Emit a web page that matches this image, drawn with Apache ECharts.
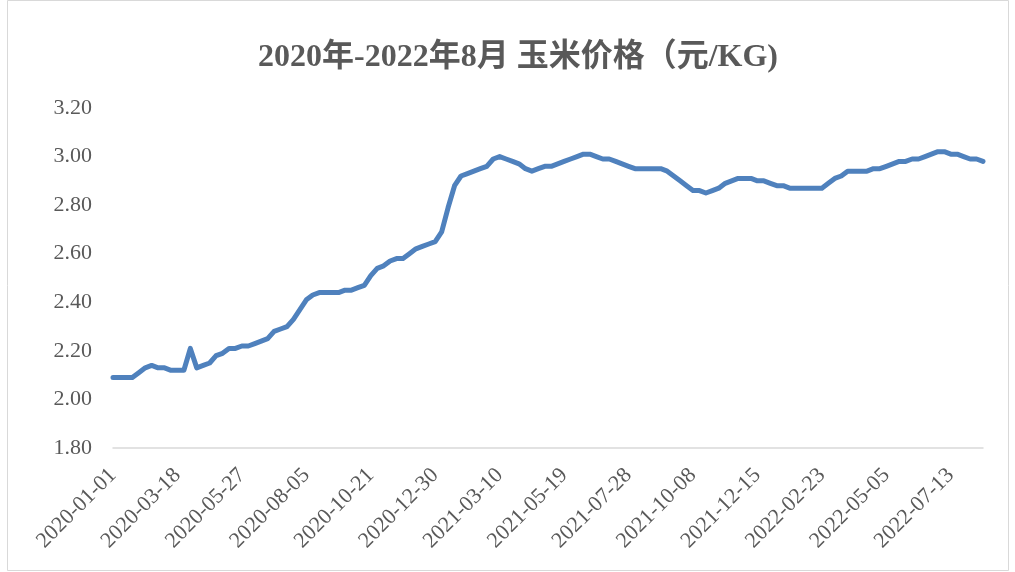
<!DOCTYPE html>
<html>
<head>
<meta charset="utf-8">
<script src="https://cdn.jsdelivr.net/npm/echarts@6/dist/echarts.min.js"></script>
<style>
html,body{margin:0;padding:0;background:#fff;}
#chart{width:1015px;height:572px;}
</style>
</head>
<body>
<div id="chart"></div>
<script>
const titleText = '2020年-2022年8月 玉米价格（元/KG)';

const dates = [
'2020-01-01','2020-01-08','2020-01-15','2020-01-22','2020-02-05','2020-02-12','2020-02-19','2020-02-26','2020-03-04','2020-03-11',
'2020-03-18','2020-03-25','2020-04-01','2020-04-08','2020-04-15','2020-04-22','2020-04-29','2020-05-06','2020-05-13','2020-05-20',
'2020-05-27','2020-06-03','2020-06-10','2020-06-17','2020-06-24','2020-07-01','2020-07-08','2020-07-15','2020-07-22','2020-07-29',
'2020-08-05','2020-08-12','2020-08-19','2020-08-26','2020-09-02','2020-09-09','2020-09-16','2020-09-23','2020-09-30','2020-10-14',
'2020-10-21','2020-10-28','2020-11-04','2020-11-11','2020-11-18','2020-11-25','2020-12-02','2020-12-09','2020-12-16','2020-12-23',
'2020-12-30','2021-01-06','2021-01-13','2021-01-20','2021-01-27','2021-02-03','2021-02-10','2021-02-17','2021-02-24','2021-03-03',
'2021-03-10','2021-03-17','2021-03-24','2021-03-31','2021-04-07','2021-04-14','2021-04-21','2021-04-28','2021-05-05','2021-05-12',
'2021-05-19','2021-05-26','2021-06-02','2021-06-09','2021-06-16','2021-06-23','2021-06-30','2021-07-07','2021-07-14','2021-07-21',
'2021-07-28','2021-08-04','2021-08-11','2021-08-18','2021-08-25','2021-09-01','2021-09-08','2021-09-15','2021-09-22','2021-09-29',
'2021-10-08','2021-10-13','2021-10-20','2021-10-27','2021-11-03','2021-11-10','2021-11-17','2021-11-24','2021-12-01','2021-12-08',
'2021-12-15','2021-12-22','2021-12-29','2022-01-05','2022-01-12','2022-01-19','2022-01-26','2022-02-02','2022-02-09','2022-02-16',
'2022-02-23','2022-03-02','2022-03-09','2022-03-16','2022-03-23','2022-03-30','2022-04-06','2022-04-13','2022-04-20','2022-04-27',
'2022-05-05','2022-05-11','2022-05-18','2022-05-25','2022-06-01','2022-06-08','2022-06-15','2022-06-22','2022-06-29','2022-07-06',
'2022-07-13','2022-07-20','2022-07-27','2022-08-03','2022-08-10','2022-08-17'
];

const prices = [
2.09,2.09,2.09,2.09,2.11,2.13,2.14,2.13,2.13,2.12,
2.12,2.12,2.21,2.13,2.14,2.15,2.18,2.19,2.21,2.21,
2.22,2.22,2.23,2.24,2.25,2.28,2.29,2.30,2.33,2.37,
2.41,2.43,2.44,2.44,2.44,2.44,2.45,2.45,2.46,2.47,
2.51,2.54,2.55,2.57,2.58,2.58,2.60,2.62,2.63,2.64,
2.65,2.69,2.79,2.88,2.92,2.93,2.94,2.95,2.96,2.99,
3.00,2.99,2.98,2.97,2.95,2.94,2.95,2.96,2.96,2.97,
2.98,2.99,3.00,3.01,3.01,3.00,2.99,2.99,2.98,2.97,
2.96,2.95,2.95,2.95,2.95,2.95,2.94,2.92,2.90,2.88,
2.86,2.86,2.85,2.86,2.87,2.89,2.90,2.91,2.91,2.91,
2.90,2.90,2.89,2.88,2.88,2.87,2.87,2.87,2.87,2.87,
2.87,2.89,2.91,2.92,2.94,2.94,2.94,2.94,2.95,2.95,
2.96,2.97,2.98,2.98,2.99,2.99,3.00,3.01,3.02,3.02,
3.01,3.01,3.00,2.99,2.99,2.98
];

const yMin = 1.8, yMax = 3.2, yStep = 0.2;
const labelEvery = 10;

const chart = echarts.init(document.getElementById('chart'), null, {renderer:'canvas'});
const serif = '"Liberation Serif","Times New Roman","Noto Sans CJK SC",serif';
chart.setOption({
  animation:false,
  backgroundColor:'#ffffff',
  title:{
    text:titleText,
    left:253,
    top:37,
    textStyle:{fontFamily:serif,fontWeight:'bold',fontSize:32,color:'#595959'}
  },
  graphic:[{
    type:'rect',
    shape:{x:7.5,y:0.5,width:1001,height:570},
    style:{fill:'none',stroke:'#d9d9d9',lineWidth:1},
    silent:true
  }],
  grid:{left:113,right:32,top:108,bottom:124},
  xAxis:{
    type:'category',
    data:dates,
    boundaryGap:false,
    axisLine:{show:true,lineStyle:{color:'#d9d9d9',width:1.5}},
    axisTick:{show:false},
    axisLabel:{
      interval:labelEvery-1,
      rotate:45,
      margin:24,
      fontFamily:serif,
      fontSize:22,
      color:'#595959'
    },
    splitLine:{show:false}
  },
  yAxis:{
    type:'value',
    min:yMin,max:yMax,interval:yStep,
    axisLine:{show:false},
    axisTick:{show:false},
    splitLine:{show:false},
    axisLabel:{
      margin:21,
      fontFamily:serif,
      fontSize:22,
      color:'#595959',
      formatter:v=>v.toFixed(2)
    }
  },
  series:[{
    type:'line',
    data:prices,
    showSymbol:false,
    symbol:'none',
    lineStyle:{color:'#4f81bd',width:5,cap:'round',join:'round'},
    itemStyle:{color:'#4f81bd'}
  }]
});
</script>
</body>
</html>
